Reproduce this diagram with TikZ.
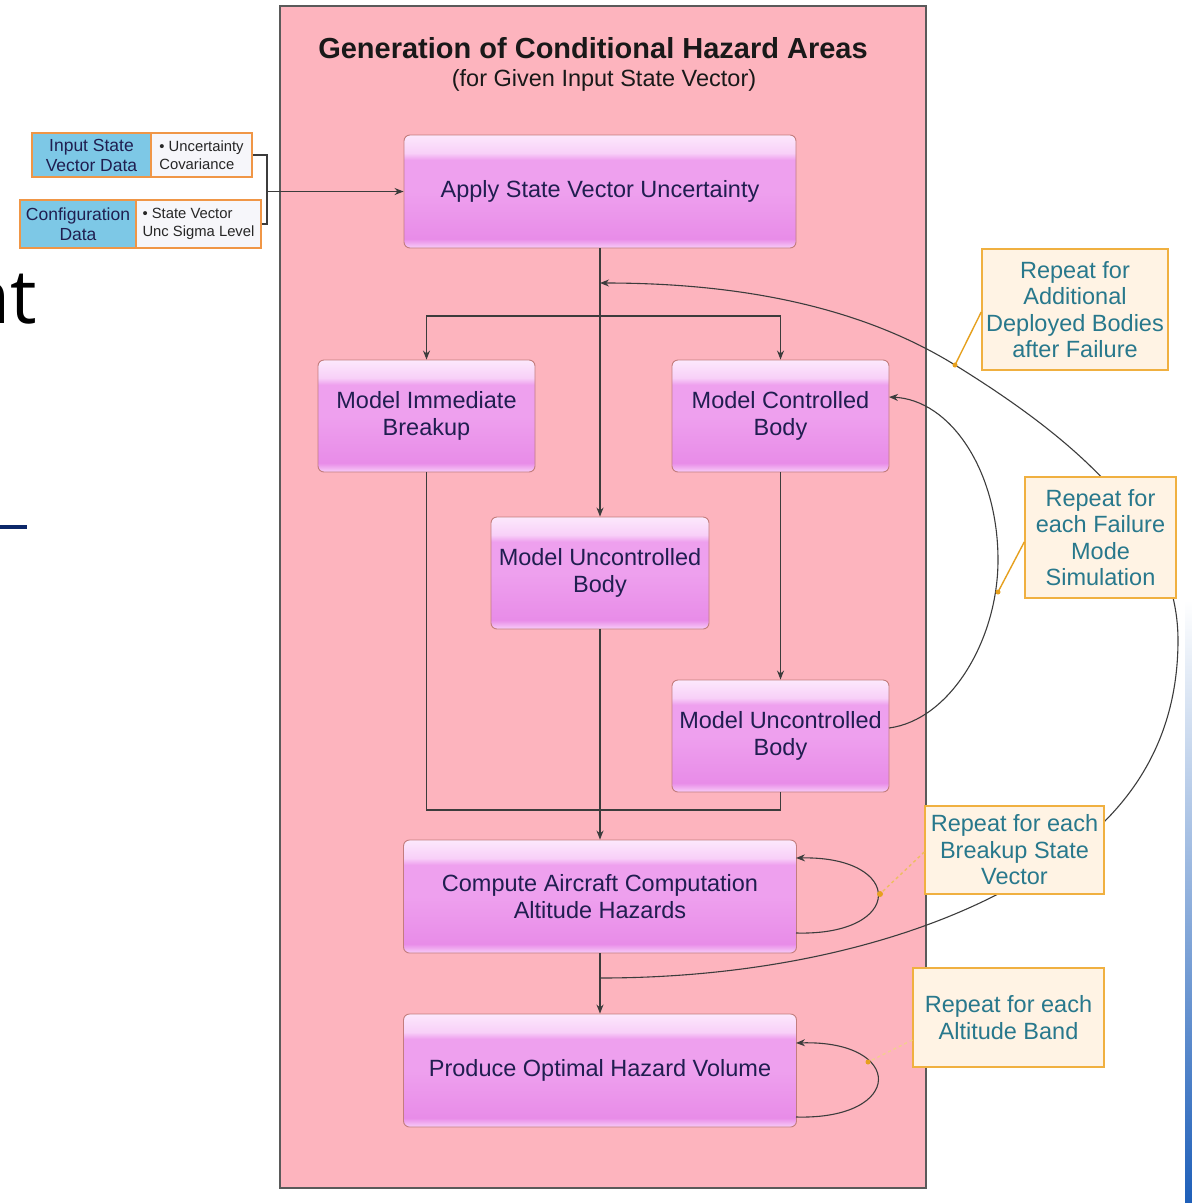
\documentclass[tikz,border=0pt]{standalone}
\usepackage{fontspec}
\setmainfont{Liberation Sans}
\newfontfamily\slidefont{Open Sans}
\usetikzlibrary{arrows.meta}
\definecolor{panelfill}{RGB}{253,180,190}
\definecolor{panelline}{RGB}{90,90,90}
\definecolor{linegray}{RGB}{60,60,60}
\definecolor{boxtext}{RGB}{32,30,80}
\definecolor{boxmain}{RGB}{238,160,238}
\definecolor{boxmaindk}{RGB}{232,140,232}
\definecolor{boxlight}{RGB}{252,232,252}
\definecolor{boxlighttwo}{RGB}{248,208,248}
\definecolor{boxbot}{RGB}{248,206,248}
\definecolor{boxedge}{RGB}{195,125,125}
\definecolor{calfill}{RGB}{255,243,228}
\definecolor{caledge}{RGB}{240,176,64}
\definecolor{caltext}{RGB}{40,120,140}
\definecolor{pointer}{RGB}{230,160,30}
\definecolor{inblue}{RGB}{125,200,230}
\definecolor{inwhite}{RGB}{246,246,250}
\definecolor{inedge}{RGB}{240,150,70}
\definecolor{navyline}{RGB}{12,40,105}
\definecolor{stripblue}{RGB}{30,95,185}
\pgfdeclareverticalshading{glossybox}{100bp}{
  color(0bp)=(boxbot); color(25bp)=(boxbot); color(29bp)=(boxmaindk);
  color(50bp)=(boxmain); color(64bp)=(boxmain); color(67bp)=(boxlighttwo);
  color(75bp)=(boxlight); color(100bp)=(boxlight)}
\tikzset{
  mbox/.style={draw=boxedge, line width=0.9pt, rounded corners=6pt,
    shade, shading=glossybox,
    text=boxtext, align=center, font=\fontsize{23.5}{27}\selectfont, inner sep=0pt},
  callout/.style={draw=caledge, line width=1.5pt, fill=calfill, text=caltext,
    align=center, font=\fontsize{23.5}{26.5}\selectfont, inner sep=0pt},
  arr/.style={draw=linegray, line width=1.1pt, -{Stealth[length=9pt,width=7pt]}},
  conn/.style={draw=linegray, line width=1.1pt},
  ptr/.style={draw=pointer, line width=1.4pt},
  inbl/.style={draw=inedge, line width=1.5pt, fill=inblue, text=boxtext, align=center,
    font=\fontsize{17.5}{20}\selectfont, inner sep=0pt},
  inwh/.style={draw=inedge, line width=1.5pt, fill=inwhite, text=black!85, align=left,
    font=\fontsize{14.8}{18}\selectfont, inner sep=0pt}
}
\begin{document}
\begin{tikzpicture}[x=1pt,y=-1pt]
\useasboundingbox (0,0) rectangle (1192,1203);
\fill[white] (0,0) rectangle (1192,1203);

% slide fragments
\node[anchor=base east, inner sep=0pt, font=\slidefont\fontsize{75}{80}\selectfont] (nt) at (37,323) {nt};
\draw[navyline, line width=4pt] (0,527) -- (27,527);
\shade[top color=white, bottom color=stripblue] (1185,600) rectangle (1192,1203);

% panel
\draw[panelline, line width=1.2pt, fill=panelfill] (280,6) rectangle (926,1188);
\node[font=\bfseries\fontsize{29}{32}\selectfont, text=black!90, inner sep=0pt] (title) at (593,48) {Generation of Conditional Hazard Areas};
\node[font=\fontsize{23.5}{26}\selectfont, text=black!90, inner sep=0pt] (subtitle) at (604,80) {(for Given Input State Vector)};

% process boxes
\node[mbox, minimum width=392pt, minimum height=113pt] (apply) at (600,191.5) {Apply State Vector Uncertainty};
\node[mbox, minimum width=217pt, minimum height=112pt] (imm) at (426.5,416) {Model Immediate\\Breakup};
\node[mbox, minimum width=217pt, minimum height=112pt] (ctrl) at (780.5,416) {Model Controlled\\Body};
\node[mbox, minimum width=218pt, minimum height=112pt] (uncm) at (600,573) {Model Uncontrolled\\Body};
\node[mbox, minimum width=217pt, minimum height=112pt] (uncr) at (780.5,736) {Model Uncontrolled\\Body};
\node[mbox, minimum width=393pt, minimum height=113pt] (comp) at (600,896.5) {Compute Aircraft Computation\\Altitude Hazards};
\node[mbox, minimum width=393pt, minimum height=113pt] (prod) at (600,1070.5) {Produce Optimal Hazard Volume};

% input boxes
\node[inbl, minimum width=119pt, minimum height=44pt] (isvL) at (91.5,155) {Input State\\Vector Data};
\node[inwh, minimum width=101pt, minimum height=44pt] (isvR) at (201.5,155) {\textbullet\ Uncertainty\\Covariance};
\node[inbl, minimum width=116pt, minimum height=48pt] (cfgL) at (78,224) {Configuration\\Data};
\node[inwh, minimum width=125pt, minimum height=48pt] (cfgR) at (198.5,224) {\textbullet\ State Vector\\Unc Sigma Level};

% input connectors
\coordinate (bk) at (267,191.5);
\draw[conn] (isvR.east) -| (bk);
\draw[conn] (cfgR.east) -| (bk);
\draw[arr] (bk) -- (apply.west);

% main flow
\coordinate (br) at (600,316);
\draw[arr] (apply.south) -- (uncm.north);
\draw[arr] (br) -| (imm.north);
\draw[arr] (br) -| (ctrl.north);
\draw[arr] (ctrl.south) -- (uncr.north);
\coordinate (jn) at (600,810);
\draw[conn] (imm.south) |- (jn) -| (uncr.south);
\draw[arr] (uncm.south) -- (comp.north);
\draw[arr] (comp.south) -- (prod.north);

% loops
\coordinate (fmS) at (889,728);
\coordinate (fmM) at (998,560);
\coordinate (fmE) at (889,397);
\draw[arr] (fmS) .. controls (950,720) and (998,640) .. (fmM)
  .. controls (998,470) and (950,400) .. (fmE);

\coordinate (bgS) at (600,978);
\coordinate (bgB) at (1000,893);
\coordinate (bgC) at (1178,640);
\coordinate (bgD) at (955,365);
\coordinate (bgE) at (600,283);
\draw[arr] (bgS) .. controls (760,978) and (900,945) .. (bgB)
  .. controls (1110,840) and (1178,760) .. (bgC)
  .. controls (1178,520) and (1060,430) .. (bgD)
  .. controls (850,300) and (720,283) .. (bgE);

\coordinate (clS) at (796,933);
\coordinate (clE) at (796,858);
\draw[arr] (clS) .. controls (905,936) and (905,856) .. (clE);
\coordinate (plS) at (796,1117);
\coordinate (plE) at (796,1043);
\draw[arr] (plS) .. controls (905,1120) and (905,1040) .. (plE);

% callouts
\node[callout, minimum width=186pt, minimum height=121pt] (c1) at (1075,309.5) {Repeat for\\Additional\\Deployed Bodies\\after Failure};
\node[callout, minimum width=151pt, minimum height=121pt] (c2) at (1100.5,537.5) {Repeat for\\each Failure\\Mode\\Simulation};
\node[callout, minimum width=179pt, minimum height=88pt] (c3) at (1014.5,850) {Repeat for each\\Breakup State\\Vector};
\node[callout, minimum width=191pt, minimum height=99pt] (c4) at (1008.5,1017.5) {Repeat for each\\Altitude Band};

% pointers
\coordinate (p1) at (955,365);
\coordinate (p2) at (998,592);
\coordinate (p3) at (880,894);
\coordinate (p4) at (868,1062);
\draw[ptr] (c1.west |- 0,312) -- (p1);
\draw[ptr] (c2.west |- 0,542) -- (p2);
\draw[ptr, dashed, draw=pointer!70] (c3.west |- 0,852) -- (p3);
\draw[ptr, dashed, draw=pointer!50] (c4.west |- 0,1040) -- (p4);
\fill[pointer] (p1) circle (2.5);
\fill[pointer] (p2) circle (2.5);
\fill[pointer] (p3) circle (3);
\fill[pointer] (p4) circle (2.5);
\end{tikzpicture}
\end{document}
